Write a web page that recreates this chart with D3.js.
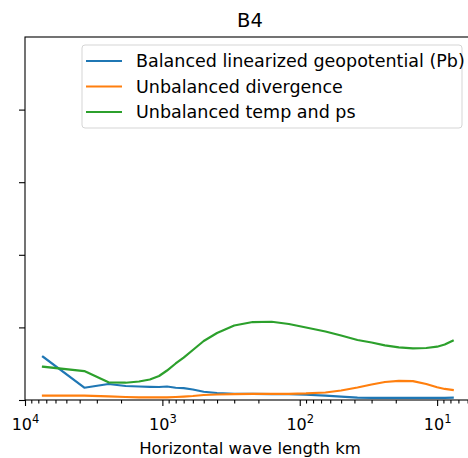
<!DOCTYPE html>
<html>
<head>
<meta charset="utf-8">
<script src="https://cdn.jsdelivr.net/npm/d3@7"></script>
<style>
  body { margin: 0; background: #fff; }
  text { font-family: "DejaVu Sans", sans-serif; fill: #000; }
</style>
</head>
<body>
<svg id="chart" width="468" height="458"></svg>
<script>
// Horizontal wavelength (km) of each spectral sample
const wavelengthKm = [7400, 3700, 2467, 1850, 1480, 1233, 1057, 925, 800, 700, 600, 500, 400, 300,
  220, 160, 120, 90, 65, 50, 38, 30, 24, 19, 15, 12, 10, 8.8, 7.7];

// Variance contributions per wavelength
const balancedGeopotential = [0.596, 0.169, 0.220, 0.193, 0.186, 0.182, 0.179, 0.186, 0.169, 0.163,
  0.145, 0.114, 0.096, 0.085, 0.083, 0.080, 0.079, 0.072, 0.059, 0.046, 0.034, 0.028, 0.028, 0.028,
  0.028, 0.028, 0.029, 0.030, 0.032];
const unbalancedDivergence = [0.059, 0.059, 0.051, 0.041, 0.037, 0.036, 0.036, 0.037, 0.041, 0.047,
  0.055, 0.069, 0.076, 0.081, 0.083, 0.083, 0.085, 0.090, 0.103, 0.131, 0.172, 0.213, 0.248, 0.264,
  0.259, 0.220, 0.175, 0.152, 0.138];
const unbalancedTempPs = [0.459, 0.399, 0.244, 0.238, 0.255, 0.282, 0.331, 0.406, 0.503, 0.585,
  0.689, 0.813, 0.923, 1.026, 1.074, 1.078, 1.047, 0.999, 0.943, 0.888, 0.826, 0.792, 0.753, 0.726,
  0.712, 0.716, 0.734, 0.764, 0.817];

const seriesNames = ["Balanced linearized geopotential (Pb)", "Unbalanced divergence", "Unbalanced temp and ps"];
const seriesColors = ["#1f77b4", "#ff7f0e", "#2ca02c"];
const seriesValues = [balancedGeopotential, unbalancedDivergence, unbalancedTempPs];

const titleText = "B4";
const xLabelText = "Horizontal wave length km";
const xMajorExponents = [4, 3, 2, 1];
const yTickValues = [0, 1, 2, 3, 4];
const xDomain = [1e4, 5.3];
const yDomain = [0, 5];

const svg = d3.select("#chart");
const plot = { left: 25, top: 37, right: 475, bottom: 400 };

const x = d3.scaleLog().domain(xDomain).range([plot.left, plot.right]);
const y = d3.scaleLinear().domain(yDomain).range([plot.bottom, plot.top]);

// minor log ticks: 2..9 times each power of ten inside the domain
const minorTicks = [];
for (let e = 0; e <= 3; e++) {
  for (let m = 2; m <= 9; m++) {
    const v = m * Math.pow(10, e);
    if (v >= xDomain[1] && v <= xDomain[0]) minorTicks.push(v);
  }
}

// data lines
const line = d3.line()
  .x((d, i) => x(wavelengthKm[i]))
  .y(d => y(d));

const clipId = "plot-clip";
svg.append("clipPath").attr("id", clipId)
  .append("rect")
  .attr("x", plot.left).attr("y", plot.top)
  .attr("width", plot.right - plot.left).attr("height", plot.bottom - plot.top);

svg.append("g").attr("clip-path", `url(#${clipId})`)
  .selectAll("path.series")
  .data(seriesValues)
  .join("path")
  .attr("class", "series")
  .attr("fill", "none")
  .attr("stroke", (d, i) => seriesColors[i])
  .attr("stroke-width", 2.2)
  .attr("stroke-linejoin", "round")
  .attr("stroke-linecap", "square")
  .attr("d", line);

// axes
const xMajorAxis = d3.axisBottom(x)
  .tickValues(xMajorExponents.map(e => Math.pow(10, e)))
  .tickSize(6).tickFormat("");
const xMinorAxis = d3.axisBottom(x)
  .tickValues(minorTicks).tickSize(3.5).tickFormat("");
const yAxis = d3.axisLeft(y)
  .tickValues(yTickValues).tickSize(6).tickFormat("");

const gxMinor = svg.append("g").attr("transform", `translate(0,${plot.bottom})`).call(xMinorAxis);
const gx = svg.append("g").attr("transform", `translate(0,${plot.bottom})`).call(xMajorAxis);
const gy = svg.append("g").attr("transform", `translate(${plot.left},0)`).call(yAxis);
[gx, gxMinor, gy].forEach(g => {
  g.select(".domain").remove();
  g.selectAll(".tick line").attr("stroke", "#000").attr("stroke-width", 1.1);
});

// tick labels 10^n
gx.selectAll(".tick").each(function(d) {
  const e = Math.round(Math.log10(d));
  const t = d3.select(this).append("text")
    .attr("y", 30)
    .attr("text-anchor", "middle")
    .style("font-size", "16px");
  t.append("tspan").text("10");
  t.append("tspan").attr("dy", -7).style("font-size", "11.5px").text(String(e));
});

// frame
svg.append("rect")
  .attr("x", plot.left).attr("y", plot.top)
  .attr("width", plot.right - plot.left).attr("height", plot.bottom - plot.top)
  .attr("fill", "none").attr("stroke", "#000").attr("stroke-width", 1.1);

// title and axis label
const cx = (plot.left + plot.right) / 2;
svg.append("text").attr("x", cx).attr("y", 26.5)
  .attr("text-anchor", "middle").style("font-size", "19.5px").text(titleText);
svg.append("text").attr("x", cx).attr("y", 454)
  .attr("text-anchor", "middle").style("font-size", "16.5px").text(xLabelText);

// legend
const legend = svg.append("g");
legend.append("rect")
  .attr("x", 82).attr("y", 45).attr("width", 380).attr("height", 83)
  .attr("rx", 3)
  .attr("fill", "#fff").attr("fill-opacity", 0.8)
  .attr("stroke", "#d5d5d5").attr("stroke-width", 1);
const rows = legend.selectAll("g.row").data(seriesNames).join("g")
  .attr("class", "row")
  .attr("transform", (d, i) => `translate(0,${61 + i * 25.5})`);
rows.append("line")
  .attr("x1", 86).attr("x2", 122)
  .attr("stroke", (d, i) => seriesColors[i]).attr("stroke-width", 2.2);
rows.append("text")
  .attr("x", 136).attr("dy", "0.36em")
  .style("font-size", "17.5px")
  .text(d => d);
</script>
</body>
</html>
